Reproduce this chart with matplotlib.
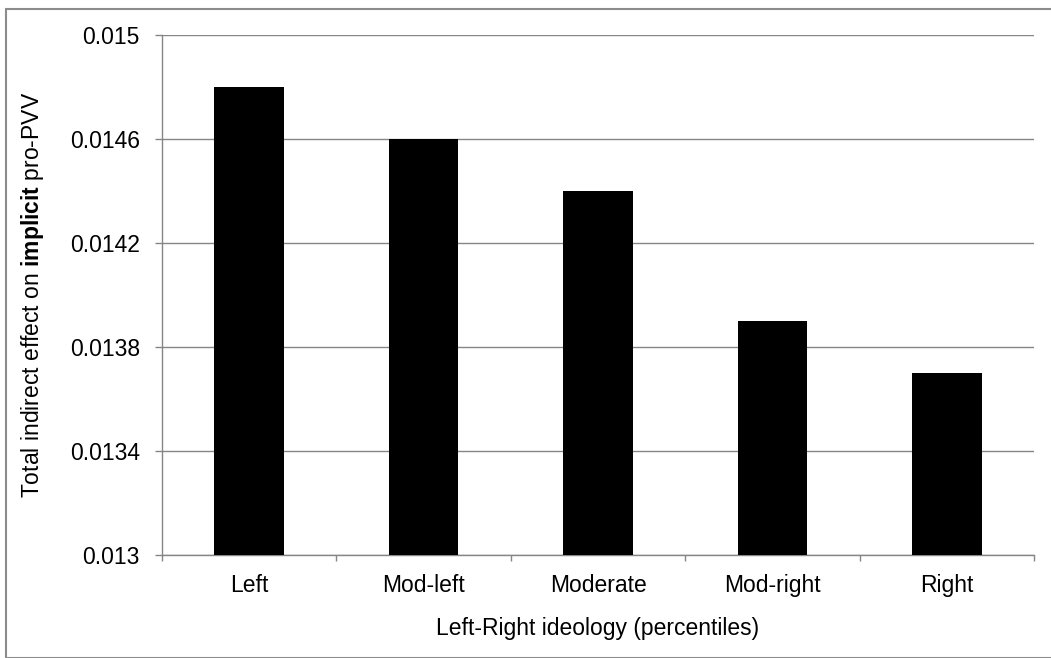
import matplotlib
matplotlib.use('Agg')
import matplotlib.pyplot as plt
from matplotlib.patches import Rectangle

plt.rcParams['font.family'] = ['Liberation Sans', 'DejaVu Sans']
plt.rcParams['mathtext.fontset'] = 'custom'
plt.rcParams['mathtext.rm'] = 'Liberation Sans'
plt.rcParams['mathtext.bf'] = 'Liberation Sans:bold'

categories = ['Left', 'Mod-left', 'Moderate', 'Mod-right', 'Right']
values = [0.0148, 0.0146, 0.0144, 0.0139, 0.0137]
y_ticks = [0.013, 0.0134, 0.0138, 0.0142, 0.0146, 0.015]
y_tick_labels = ['0.013', '0.0134', '0.0138', '0.0142', '0.0146', '0.015']

W, H = 1051, 658
fig = plt.figure(figsize=(W / 100, H / 100), dpi=100)
ax = fig.add_axes([162 / W, 1 - 555 / H, (1034 - 162) / W, (555 - 35) / H])

grid_col = '#868686'
fs = 16.5
x = range(len(categories))
ax.bar(x, values, width=0.40, color='black', zorder=3)

ax.set_xlim(-0.5, len(categories) - 0.5)
ax.set_ylim(0.013, 0.015)
ax.set_yticks(y_ticks)
ax.set_yticklabels(y_tick_labels)
ax.set_xticks(list(x))
ax.set_xticklabels(categories)
ax.set_xticks([i - 0.5 for i in range(len(categories) + 1)], minor=True)

ax.yaxis.grid(True, color=grid_col, linewidth=1, zorder=0)
ax.set_axisbelow(True)
for s in ['top', 'right']:
    ax.spines[s].set_visible(False)
for s in ['left', 'bottom']:
    ax.spines[s].set_color(grid_col)
    ax.spines[s].set_linewidth(1)

ax.tick_params(axis='y', length=5, width=1, color=grid_col, labelsize=fs, pad=11)
ax.tick_params(axis='x', which='major', length=0, labelsize=fs, pad=14)
ax.tick_params(axis='x', which='minor', length=4.3, width=1, color=grid_col)

ax.set_xlabel('Left-Right ideology (percentiles)', fontsize=fs, labelpad=14)
ax.set_ylabel(r'Total indirect effect on $\bf{implicit}$ pro-PVV', fontsize=fs, labelpad=17)

# outer chart frame
fig.patches.append(Rectangle((6 / W, 0), 1.2, 1 - 9 / H, transform=fig.transFigure,
                             fill=False, edgecolor='#8c8c8c', linewidth=1.5))

fig.savefig('out.png', dpi=100)
